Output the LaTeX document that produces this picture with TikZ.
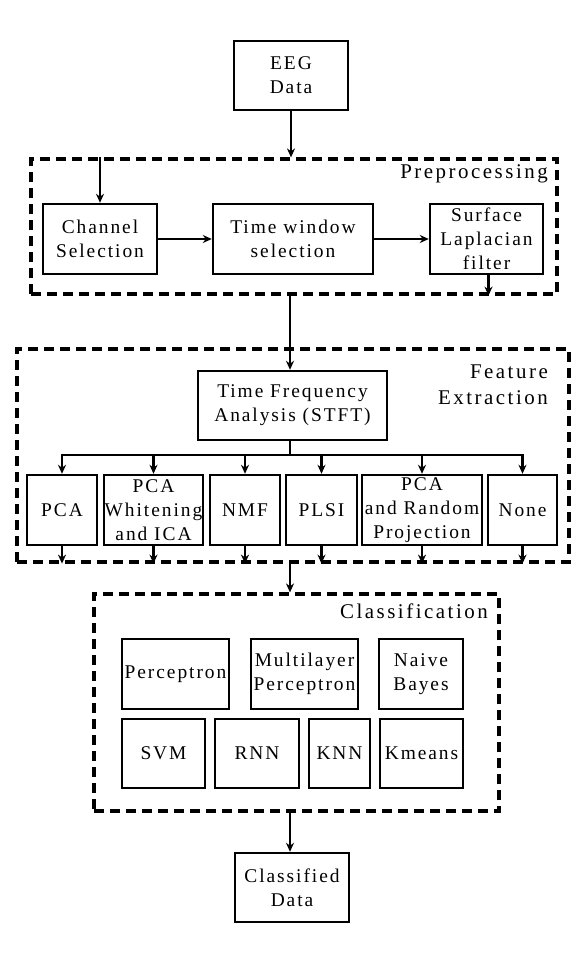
\documentclass[tikz,border=0pt]{standalone}
\usepackage{fontspec}
\setmainfont{Liberation Serif}[LetterSpace=10]
\newfontfamily\lblfont{Liberation Serif}[LetterSpace=12]
\usetikzlibrary{arrows.meta}
\begin{document}
\begin{tikzpicture}[x=1bp,y=-1bp,
  box/.style={draw=black, line width=2.4bp, fill=white, align=center, inner sep=0pt,
    font=\fontsize{19.5}{24}\selectfont, minimum height=69bp},
  group/.style={draw=black, line width=3.2bp, dash pattern=on 10bp off 6bp, inner sep=0pt},
  lbl/.style={font=\lblfont\fontsize{21}{26}\selectfont, align=right, inner sep=0pt},
  arr/.style={line width=2.6bp, -{Stealth[length=9bp,width=8bp]}},
  ln/.style={line width=2.6bp}]
\useasboundingbox (0,0) rectangle (585,960);
% groups
\node[group, minimum width=526bp, minimum height=135bp] (pre) at (294,226.5) {};
\node[group, minimum width=552bp, minimum height=213bp] (feat) at (293,455.5) {};
\node[group, minimum width=405bp, minimum height=217bp] (cls) at (296.5,702.5) {};
\node[lbl, anchor=east] (prelbl) at (548,174) {Preprocessing};
\node[lbl, anchor=east] (featlbl) at (548,385) {Feature\\Extraction};
\node[lbl, anchor=east] (clslbl) at (488,611) {Classification};
% boxes
\node[box, minimum width=114bp] (eeg) at (291,75.5) {EEG\\Data};
\node[box, minimum width=114bp, minimum height=70bp] (chan) at (100,239) {Channel\\Selection};
\node[box, minimum width=160bp, minimum height=70bp] (time) at (293,239) {Time window\\selection};
\node[box, minimum width=113bp, minimum height=70bp] (surf) at (486.5,239) {Surface\\Laplacian\\filter};
\node[box, minimum width=189bp] (tfa) at (292.5,405.5) {Time Frequency\\Analysis (STFT)};
\node[box, minimum width=70bp, minimum height=70bp] (pca) at (62,510) {PCA};
\node[box, minimum width=99bp, minimum height=70bp] (pcaw) at (153.5,510) {PCA\\Whitening\\and ICA};
\node[box, minimum width=70bp, minimum height=70bp] (nmf) at (245,510) {NMF};
\node[box, minimum width=71bp, minimum height=70bp] (plsi) at (321.5,510) {PLSI};
\node[box, minimum width=120bp, minimum height=70bp] (pcarp) at (422,510) {PCA\\and Random\\Projection};
\node[box, minimum width=69bp, minimum height=70bp] (none) at (522.5,510) {None};
\node[box, minimum width=107bp, minimum height=70bp] (perc) at (175.5,674) {Perceptron};
\node[box, minimum width=107bp, minimum height=70bp] (mlp) at (304.5,674) {Multilayer\\Perceptron};
\node[box, minimum width=84bp, minimum height=70bp] (nb) at (421,674) {Naive\\Bayes};
\node[box, minimum width=83bp] (svm) at (163.5,753.5) {SVM};
\node[box, minimum width=84bp] (rnn) at (257,753.5) {RNN};
\node[box, minimum width=61bp] (knn) at (339.5,753.5) {KNN};
\node[box, minimum width=83bp] (km) at (421.5,753.5) {Kmeans};
\node[box, minimum width=114bp] (cd) at (292,887.5) {Classified\\Data};
% connectors
\draw[arr] (eeg.south) -- (eeg.south |- pre.north);
\draw[arr] (pre.north -| chan) -- (chan.north);
\draw[arr] (chan.east) -- (time.west);
\draw[arr] (time.east) -- (surf.west);
\draw[arr] ([xshift=2bp]surf.south) -- ([xshift=2bp]surf.south |- pre.south);
\draw[arr] (pre.south -| 290,0) -- (tfa.north -| 290,0);
\coordinate (bus) at (290,455);
\draw[ln] (tfa.south -| bus) -- (bus);
\draw[ln, line cap=rect] (pca |- bus) -- (none |- bus);
\foreach \n in {pca,pcaw,nmf,plsi,pcarp,none}{
  \draw[arr] (\n |- bus) -- (\n.north);
  \draw[arr] (\n.south) -- (\n.south |- feat.south);
}
\draw[arr] (feat.south -| 290,0) -- (cls.north -| 290,0);
\draw[arr] (cls.south -| 290,0) -- (cd.north -| 290,0);
\end{tikzpicture}
\end{document}
